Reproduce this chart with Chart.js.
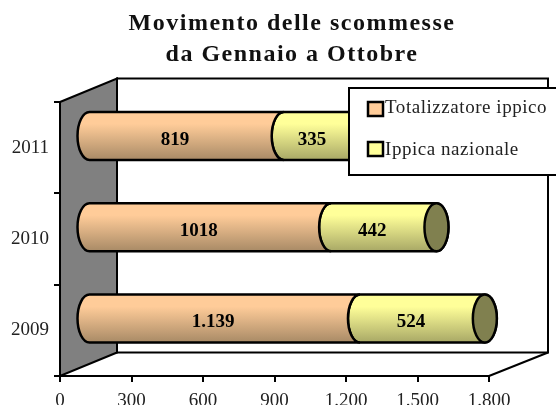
<!DOCTYPE html>
<html><head><meta charset="utf-8">
<style>html,body{margin:0;padding:0;background:#fff}#w{width:556px;height:405px;overflow:hidden}</style>
<script src="https://cdn.jsdelivr.net/npm/chart.js@4/dist/chart.umd.min.js"></script>
</head><body><div id="w"><canvas id="c" width="556" height="405"></canvas></div>
<script>
const categories = ['2011','2010','2009'];
const totalizzatore = [819,1018,1139];
const ippica = [335,442,524];
const totalizzatoreText = ['819','1018','1.139'];
const ippicaText = ['335','442','524'];
const xTickLabels = ['0','300','600','900','1.200','1.500','1.800'];
const titleLines = ['Movimento delle scommesse','da Gennaio a Ottobre'];
const seriesNames = ['Totalizzatore ippico','Ippica nazionale'];

const FONT = '"Liberation Serif"';
const DEPTH_X = 57, DEPTH_Y = -23.5, CAP = 12;

class CylinderBar extends Chart.BarController {
  draw() {
    const ctx = this.chart.ctx, ds = this.getDataset();
    const last = this.index === this.chart.data.datasets.length - 1;
    this.getMeta().data.forEach((el, i) => {
      const { x, base, y, height } = el.getProps(['x','base','y','height'], true);
      const top = y - height/2 + DEPTH_Y/2, bot = y + height/2 + DEPTH_Y/2;
      const x0 = base + DEPTH_X/2, x1 = x + DEPTH_X/2, cy = (top+bot)/2, ry = height/2;
      const g = ctx.createLinearGradient(0, top, 0, bot);
      g.addColorStop(0, ds.shades[0]); g.addColorStop(.25, ds.shades[0]);
      g.addColorStop(1, ds.shades[1]);
      ctx.save();
      ctx.beginPath();
      ctx.ellipse(x0, cy, CAP, ry, 0, -Math.PI/2, -3*Math.PI/2, true);
      ctx.lineTo(x1, bot);
      // the outer end bulges right; a seam end follows the next segment's left bulge
      ctx.ellipse(x1, cy, CAP, ry, 0, Math.PI/2, -Math.PI/2, last);
      ctx.closePath();
      ctx.fillStyle = g; ctx.fill();
      ctx.lineWidth = 2.5; ctx.strokeStyle = '#000'; ctx.stroke();
      if (last) {
        ctx.beginPath();
        ctx.ellipse(x1, cy, CAP, ry, 0, 0, 2*Math.PI);
        ctx.fillStyle = ds.capColor; ctx.fill(); ctx.stroke();
      }
      ctx.fillStyle = '#000';
      ctx.font = 'bold 19px ' + FONT;
      ctx.textAlign = 'center'; ctx.textBaseline = 'middle';
      ctx.fillText(ds.valueText[i], (base+x)/2 + 17, cy + 4);
      ctx.restore();
    });
  }
}
CylinderBar.id = 'cylinderBar';
CylinderBar.defaults = Chart.BarController.defaults;
Chart.register(CylinderBar);

const walls = {
  id: 'walls',
  afterLayout(chart) {
    const t = chart.titleBlock;
    t.left = 28; t.right = 556;
    if (!t._spaced) {
      const d = t.draw.bind(t);
      t.draw = function (a) {
        const c = chart.ctx; c.save(); c.letterSpacing = '1.5px'; d(a); c.restore();
      };
      t._spaced = true;
    }
  },
  beforeDraw(chart) {
    const { left, right, top, bottom } = chart.chartArea, c = chart.ctx;
    const backRight = right + DEPTH_X + 2;
    c.save();
    c.fillStyle = '#fff'; c.fillRect(0,0,chart.width,chart.height);
    c.lineWidth = 2; c.strokeStyle = '#000'; c.lineJoin = 'miter';
    c.strokeRect(left+DEPTH_X, top+DEPTH_Y, backRight-left-DEPTH_X, bottom-top);
    c.beginPath();
    c.moveTo(left,top); c.lineTo(left+DEPTH_X,top+DEPTH_Y);
    c.lineTo(left+DEPTH_X,bottom+DEPTH_Y); c.lineTo(left,bottom); c.closePath();
    c.fillStyle = '#808080'; c.fill(); c.stroke();
    c.beginPath();
    c.moveTo(right,bottom); c.lineTo(backRight,bottom+DEPTH_Y); c.stroke();
    c.restore();
  },
  afterDraw(chart) {
    const c = chart.ctx;
    c.save();
    c.fillStyle = '#fff'; c.strokeStyle = '#000'; c.lineWidth = 2;
    c.fillRect(349,88,210,87); c.strokeRect(349,88,210,87);
    chart.data.datasets.forEach((ds,i) => {
      const y = 102 + i*40;
      c.lineWidth = 2.5;
      c.fillStyle = ds.shades[0];
      c.fillRect(368,y,15,14); c.strokeRect(368,y,15,14);
      c.fillStyle = '#222';
      c.font = '19px ' + FONT; c.letterSpacing = '0.55px';
      c.textAlign = 'left'; c.textBaseline = 'middle';
      c.fillText(ds.label, 385, 108 + i*42);
    });
    c.restore();
  }
};

new Chart(document.getElementById('c'), {
  type: 'cylinderBar',
  data: { labels: categories, datasets: [
    { label: seriesNames[0], data: totalizzatore, valueText: totalizzatoreText, shades:['#FFCC99','#A88A66'], backgroundColor:'#FFCC99', clip:false },
    { label: seriesNames[1], data: ippica, valueText: ippicaText, shades:['#FFFF99','#A8A866'], capColor:'#80804F', backgroundColor:'#FFFF99', clip:false }
  ]},
  plugins: [walls],
  options: {
    indexAxis: 'y', responsive: false, animation: false,
    layout: { padding: { left: 0, right: 67, top: 8, bottom: 0 } },
    barPercentage: .525, categoryPercentage: 1,
    plugins: {
      legend: { display: false }, tooltip: { enabled: false },
      title: { display: true, text: titleLines, color:'#111',
        font: { family: FONT, size: 24, weight: 'bold', lineHeight: 1.3 },
        padding: { top: 0, bottom: 31.6 } }
    },
    scales: {
      x: { type:'linear', stacked:true, min:0, max:1800,
        afterFit(s){ s.height = 29; },
        grid:{ drawOnChartArea:false, drawTicks:true, tickLength:6, color:'#000', lineWidth:2 },
        border:{ color:'#000', width:2 },
        ticks:{ stepSize:300, autoSkip:false, maxRotation:0, color:'#222', padding:8,
          font:{family:FONT,size:19}, callback:(v,i)=>xTickLabels[i] } },
      y: { type:'category', stacked:true,
        afterFit(s){ s.width = 60; },
        grid:{ drawOnChartArea:false, drawTicks:true, tickLength:6, color:'#000', lineWidth:2, offset:true },
        border:{ color:'#000', width:2 },
        ticks:{ color:'#222', padding:5, font:{family:FONT,size:19} } }
    }
  }
});
</script></body></html>
